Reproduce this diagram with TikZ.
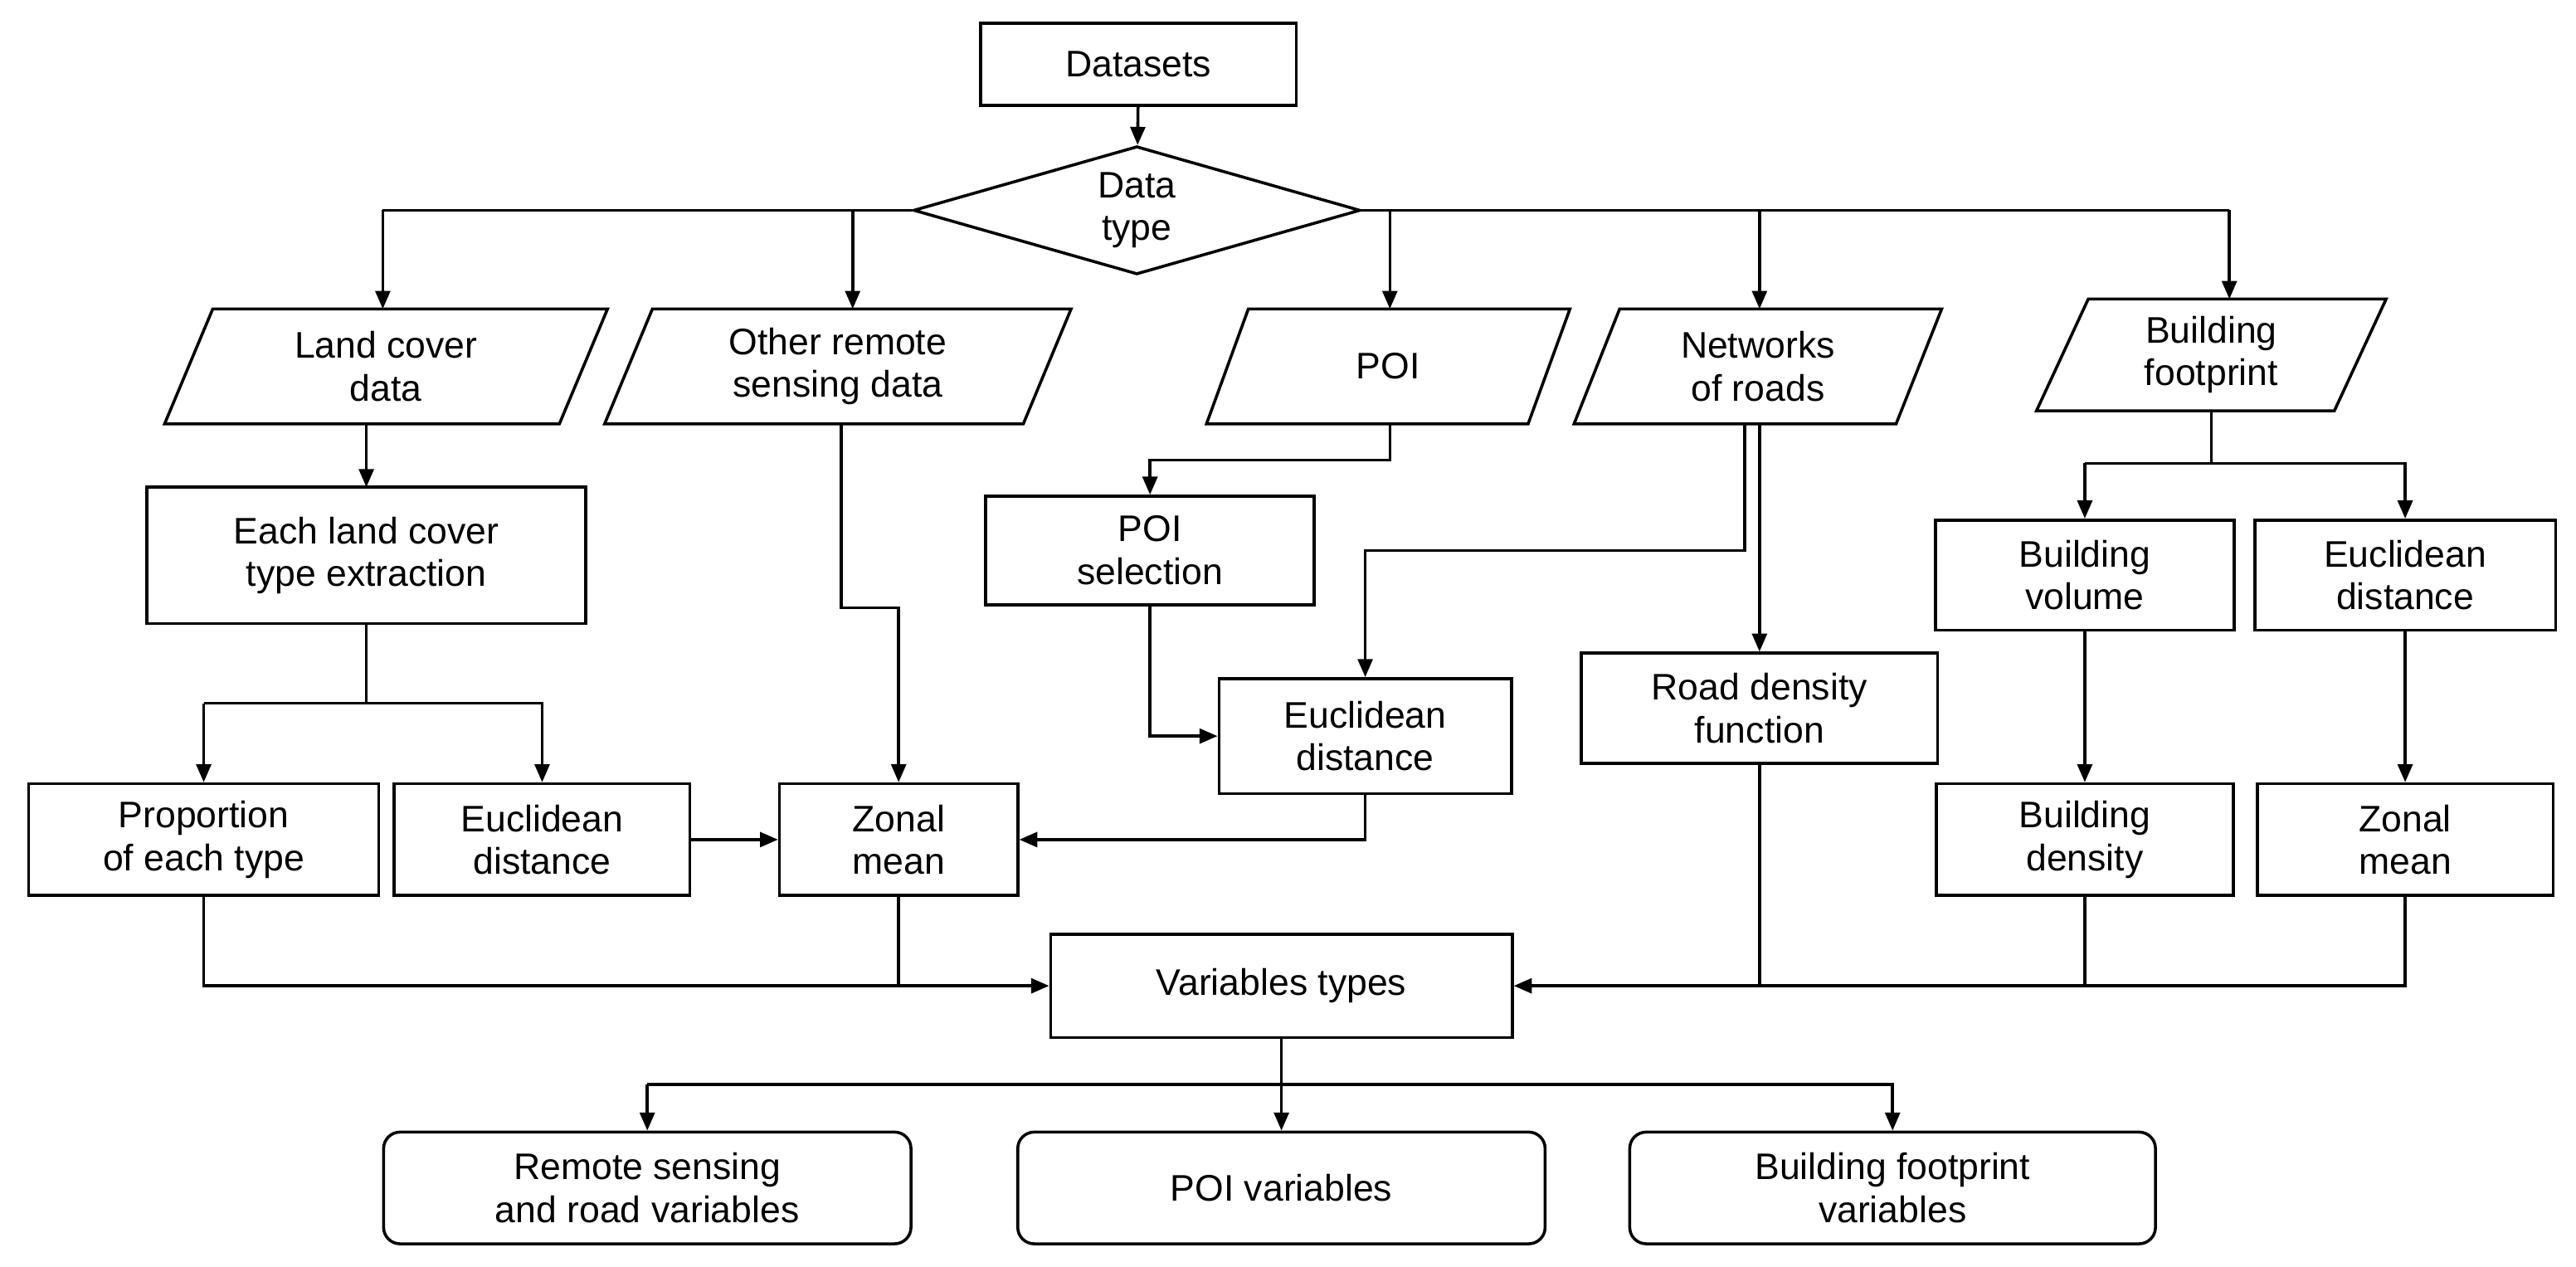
\documentclass[tikz,border=0pt]{standalone}
\usepackage{fontspec}
\setmainfont{Liberation Sans}
\usetikzlibrary{shapes.geometric,arrows.meta}
\begin{document}
\begin{tikzpicture}[x=1pt,y=-1pt,line width=1.8pt,
 every node/.style={font=\fontsize{22.5}{26}\selectfont,align=center,inner sep=0pt},
 box/.style={draw,rectangle},
 rbox/.style={draw,rectangle,rounded corners=10pt},
 par/.style={draw,trapezium,trapezium left angle=70,trapezium right angle=110,trapezium stretches=true},
 arr/.style={-{Triangle[length=11pt,width=9pt]}}]
\useasboundingbox (0,0) rectangle (1568,771);
\node[box,minimum width=192,minimum height=50] (ds) at (693,39) {Datasets};
\node[draw,diamond,aspect=3.5,minimum width=272,minimum height=78] (dt) at (692,128) {Data\\type};
\node[par,minimum width=270,minimum height=70] (lc) at (235,223) {Land cover\\data};
\node[par,minimum width=284,minimum height=70] (ors) at (510,223) {Other remote\\sensing data};
\node[par,minimum width=222,minimum height=70] (poi) at (845,223) {POI};
\node[par,minimum width=224,minimum height=70] (net) at (1070,223) {Networks\\of roads};
\node[par,minimum width=213,minimum height=68] (bf) at (1346,216) {Building\\footprint};
\node[box,minimum width=267,minimum height=83] (ext) at (223,338) {Each land cover\\type extraction};
\node[box,minimum width=213,minimum height=68] (prop) at (124,511) {Proportion\\of each type};
\node[box,minimum width=180,minimum height=68] (ed1) at (330,511) {Euclidean\\distance};
\node[box,minimum width=145,minimum height=68] (zm1) at (547,511) {Zonal\\mean};
\node[box,minimum width=200,minimum height=66] (ps) at (700,335) {POI\\selection};
\node[box,minimum width=178,minimum height=70] (ed2) at (831,448) {Euclidean\\distance};
\node[box,minimum width=217,minimum height=67] (rd) at (1071,431) {Road density\\function};
\node[box,minimum width=182,minimum height=67] (bv) at (1269,350) {Building\\volume};
\node[box,minimum width=183,minimum height=67] (ed3) at (1464,350) {Euclidean\\distance};
\node[box,minimum width=181,minimum height=68] (bd) at (1269,511) {Building\\density};
\node[box,minimum width=180,minimum height=68] (zm2) at (1464,511) {Zonal\\mean};
\node[box,minimum width=281,minimum height=63] (vt) at (780,600) {Variables types};
\node[rbox,minimum width=321,minimum height=68] (v1) at (394,723) {Remote sensing\\and road variables};
\node[rbox,minimum width=321,minimum height=68] (v2) at (780,723) {POI variables};
\node[rbox,minimum width=320,minimum height=68] (v3) at (1152,723) {Building footprint\\variables};
\draw[arr] (ds) -- (dt);
\draw (dt.west) -- (233,128) coordinate (l);
\draw (dt.east) -- (1357,128) coordinate (r);
\draw[arr] (l) -- (233,188);
\draw[arr] (519,128) -- (519,188);
\draw[arr] (846,128) -- (846,188);
\draw[arr] (1071,128) -- (1071,188);
\draw[arr] (r) -- (1357,182);
\draw[arr] (223,258) -- (223,296.5);
\draw (223,379.5) -- (223,428);
\draw[arr] (124,428) -- (prop);
\draw[arr] (124,428) -- (330,428) -- (ed1);
\draw[arr] (ed1) -- (zm1);
\draw[arr] (512,258) -- (512,370) -- (547,370) -- (zm1);
\draw[arr] (846,258) -- (846,280) -- (700,280) -- (ps);
\draw[arr] (ps) -- (700,448) -- (ed2);
\draw[arr] (1062,258) -- (1062,335) -- (831,335) -- (ed2);
\draw[arr] (1071,258) -- (rd);
\draw[arr] (831,483) -- (831,511) -- (zm1);
\draw (1346,250) -- (1346,282);
\draw[arr] (1269,282) -- (bv);
\draw[arr] (1269,282) -- (1464,282) -- (ed3);
\draw[arr] (bv) -- (bd);
\draw[arr] (ed3) -- (zm2);
\draw[arr] (prop) -- (124,600) -- (vt.west);
\draw (zm1) -- (547,600);
\draw[arr] (zm2) -- (1464,600) -- (vt.east);
\draw (bd) -- (1269,600);
\draw (rd) -- (1071,600);
\draw (vt) -- (780,660);
\draw[arr] (394,660) -- (v1);
\draw[arr] (394,660) -- (1152,660) -- (v3);
\draw[arr] (780,660) -- (v2);
\end{tikzpicture}
\end{document}
